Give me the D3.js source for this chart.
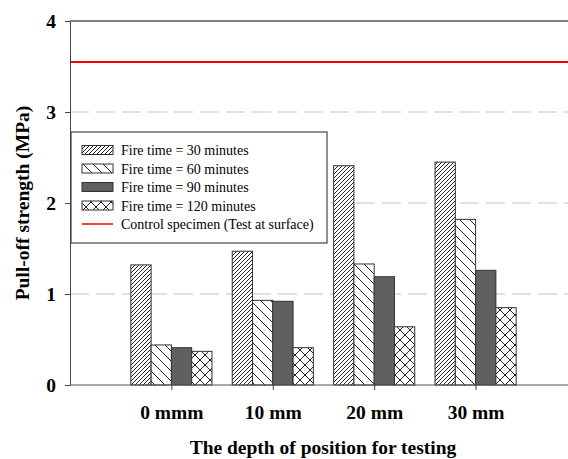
<!DOCTYPE html>
<html>
<head>
<meta charset="utf-8">
<script src="https://cdn.jsdelivr.net/npm/d3@7"></script>
<style>
  body { margin: 0; background: #fff; }
  svg text { font-family: "Liberation Serif", "Times New Roman", serif; }
</style>
</head>
<body>
<div id="chart"></div>
<script>
const depths = ["0 mmm", "10 mm", "20 mm", "30 mm"];
const seriesNames = ["Fire time = 30 minutes", "Fire time = 60 minutes",
    "Fire time = 90 minutes", "Fire time = 120 minutes"];
const fire30 = [1.32, 1.47, 2.41, 2.45];
const fire60 = [0.44, 0.93, 1.33, 1.82];
const fire90 = [0.41, 0.92, 1.19, 1.26];
const fire120 = [0.37, 0.41, 0.64, 0.85];
const controlValue = 3.55;
const controlName = "Control specimen (Test at surface)";
const yTicks = [0, 1, 2, 3, 4];
const gridValues = [1, 2, 3];

const series = [fire30, fire60, fire90, fire120];
const fills = ["url(#p30)", "url(#p60)", "#606060", "url(#p120)"];

const W = 568, H = 459;
const x = d3.scaleLinear().domain([0, 5]).range([70, 577]);
const y = d3.scaleLinear().domain([0, 4]).range([385, 21]);

const svg = d3.select("#chart").append("svg")
    .attr("width", W).attr("height", H);

// hatch patterns
const defs = svg.append("defs");
const p30 = defs.append("pattern").attr("id", "p30")
    .attr("patternUnits", "userSpaceOnUse").attr("width", 4).attr("height", 4);
p30.append("rect").attr("width", 4).attr("height", 4).attr("fill", "#fff");
p30.append("path").attr("d", "M-1,1 l2,-2 M0,4 l4,-4 M3,5 l2,-2")
    .attr("stroke", "#222").attr("stroke-width", 1);

const p60 = defs.append("pattern").attr("id", "p60")
    .attr("patternUnits", "userSpaceOnUse").attr("width", 10).attr("height", 10);
p60.append("rect").attr("width", 10).attr("height", 10).attr("fill", "#fff");
p60.append("path").attr("d", "M-1,-1 l12,12 M-6,4 l7,7 M4,-6 l7,7")
    .attr("stroke", "#222").attr("stroke-width", 1);

const p120 = defs.append("pattern").attr("id", "p120")
    .attr("patternUnits", "userSpaceOnUse").attr("width", 10).attr("height", 10);
p120.append("rect").attr("width", 10).attr("height", 10).attr("fill", "#fff");
p120.append("path").attr("d", "M-1,-1 l12,12 M-1,11 l12,-12")
    .attr("stroke", "#222").attr("stroke-width", 1);

// gridlines
svg.append("g").selectAll("line")
    .data(gridValues).enter().append("line")
    .attr("x1", x(0)).attr("x2", W)
    .attr("y1", d => y(d)).attr("y2", d => y(d))
    .attr("stroke", "#c4c4c4").attr("stroke-width", 1.2)
    .attr("stroke-dasharray", "19,7");

// bars
const step = x(1) - x(0);
const bw = step * 0.8 / 4;
series.forEach(function (vals, s) {
    svg.append("g").selectAll("rect")
        .data(vals).enter().append("rect")
        .attr("x", (d, i) => x(i + 1) - 2 * bw + s * bw)
        .attr("width", bw)
        .attr("y", d => y(d))
        .attr("height", d => y(0) - y(d))
        .attr("fill", fills[s])
        .attr("stroke", "#333").attr("stroke-width", 1);
});

// control line
svg.append("line")
    .attr("x1", x(0)).attr("x2", W)
    .attr("y1", y(controlValue)).attr("y2", y(controlValue))
    .attr("stroke", "#ff0000").attr("stroke-width", 2);

// axes
const yAxis = svg.append("g")
    .attr("transform", "translate(" + x(0) + ",0)")
    .call(d3.axisLeft(y).tickValues(yTicks).tickSize(5).tickSizeOuter(0).tickFormat(d3.format("d")));
yAxis.select(".domain").attr("stroke", "#444");
yAxis.selectAll(".tick line").attr("stroke", "#444");
yAxis.selectAll("text").attr("font-size", "19.5px").attr("font-weight", "bold")
    .attr("fill", "#000").attr("x", -14).attr("dy", "0.34em");

const xAxis = svg.append("g")
    .attr("transform", "translate(0," + y(0) + ")")
    .call(d3.axisBottom(x).tickValues([1, 2, 3, 4]).tickSize(5).tickSizeOuter(0)
        .tickFormat(d => depths[d - 1]));
xAxis.select(".domain").attr("stroke", "#555").attr("d", "M" + x(0) + ",0H" + W);
xAxis.selectAll(".tick line").attr("stroke", "#444");
xAxis.selectAll("text").attr("font-size", "19.5px").attr("font-weight", "bold")
    .attr("fill", "#000").attr("y", 34).attr("dy", 0);

// top frame
svg.append("line")
    .attr("x1", x(0)).attr("x2", W).attr("y1", y(4)).attr("y2", y(4))
    .attr("stroke", "#555").attr("stroke-width", 1.5);

// axis titles
svg.append("text")
    .attr("x", 323).attr("y", 454)
    .attr("text-anchor", "middle").attr("font-size", "19.5px").attr("font-weight", "bold")
    .text("The depth of position for testing");
svg.append("text")
    .attr("transform", "translate(29," + ((y(0) + y(4)) / 2) + ") rotate(-90)")
    .attr("text-anchor", "middle").attr("font-size", "19.5px").attr("font-weight", "bold")
    .text("Pull-off strength (MPa)");

// legend
const legend = svg.append("g").attr("transform", "translate(71,132)");
legend.append("rect").attr("width", 256).attr("height", 111)
    .attr("fill", "#fff").attr("stroke", "#444").attr("stroke-width", 1.2);
const rowY = d3.scaleLinear().domain([0, 4]).range([18, 92]);
seriesNames.forEach(function (name, s) {
    legend.append("rect")
        .attr("x", 11).attr("y", rowY(s) - 4.5)
        .attr("width", 31).attr("height", 9)
        .attr("fill", fills[s]).attr("stroke", "#333");
    legend.append("text")
        .attr("x", 50).attr("y", rowY(s) + 5)
        .attr("font-size", "14px").text(name);
});
legend.append("line")
    .attr("x1", 11).attr("x2", 42).attr("y1", rowY(4)).attr("y2", rowY(4))
    .attr("stroke", "#ff0000").attr("stroke-width", 1.5);
legend.append("text")
    .attr("x", 50).attr("y", rowY(4) + 5)
    .attr("font-size", "14px").text(controlName);
</script>
</body>
</html>
